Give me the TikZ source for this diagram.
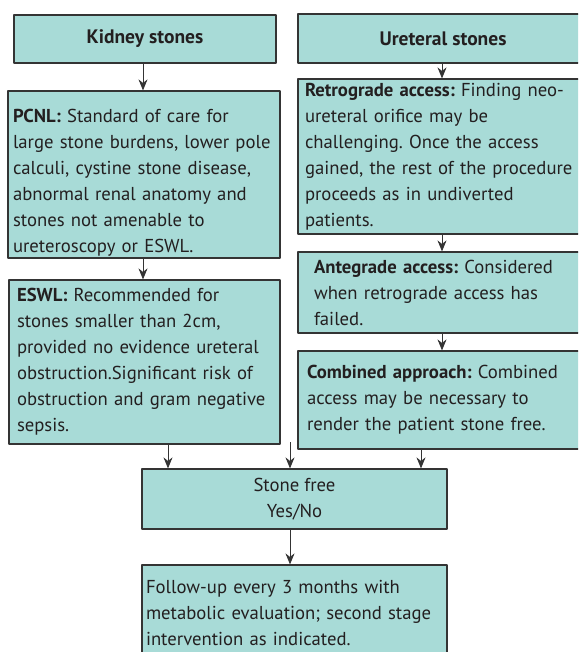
\documentclass[tikz,border=0pt]{standalone}
\usepackage{fontspec}
\setmainfont{PT Sans}
\frenchspacing
\usetikzlibrary{arrows.meta}
\definecolor{boxfill}{RGB}{168,219,215}
\definecolor{boxline}{RGB}{52,52,52}
\definecolor{txt}{RGB}{35,31,32}
\begin{document}
\begin{tikzpicture}[x=1pt, y=-1pt, line join=round, >={Stealth[length=11pt,width=9pt]},
	box/.style={draw=boxline, fill=boxfill, line width=1.2pt, text=txt, inner ysep=0pt, align=left, font=\fontsize{18.7}{26}\selectfont},
	head/.style={box, align=center, font=\fontsize{19.5}{26}\selectfont\bfseries},
	link/.style={->, line width=0.9pt, draw=boxline}]
	\clip (0,0) rectangle (578,652);
	% left column
	\node[head, minimum width=262pt, minimum height=48pt] (kid) at (145,39) {Kidney stones};
	\node[box, text width=262pt, inner xsep=5pt, minimum height=167pt] (pcnl) at (144,174.5)
	{\rule{0pt}{30pt}\textbf{PCNL:} Standard of care for\\large stone burdens, lower pole\\calculi, cystine stone disease,\\abnormal renal anatomy and\\stones not amenable to\\ureteroscopy or ESWL.};
	\node[box, text width=255pt, inner xsep=8pt, minimum height=164pt] (eswl) at (144.5,362)
	{\textbf{ESWL:} Recommended for\\stones smaller than 2cm,\\provided no evidence ureteral\\obstruction.Significant risk of\\obstruction and gram negative\\sepsis.};
	% right column
	\node[head, minimum width=290pt, minimum height=49pt] (ure) at (443,38.5) {Ureteral stones};
	\node[box, text width=276pt, inner xsep=7pt, minimum height=155pt] (retro) at (443,156.5)
	{\textbf{Retrograde access:} Finding neo-\\ureteral orifice may be\\challenging. Once the access\\gained, the rest of the procedure\\proceeds as in undiverted\\patients.};
	\node[box, text width=258pt, inner xsep=16pt, minimum height=81pt] (ante) at (443,292.5)
	{\textbf{Antegrade access:} Considered\\when retrograde access has\\failed.};
	\node[box, text width=272pt, inner xsep=9pt, minimum height=98pt] (comb) at (443,400)
	{\textbf{Combined approach:} Combined\\access may be necessary to\\render the patient stone free.};
	% bottom
	\node[box, align=center, minimum width=305pt, minimum height=60pt] (free) at (294.5,499) {Stone free\\Yes/No};
	\node[box, text width=297pt, inner xsep=4pt, minimum height=96pt] (follow) at (294.5,613)
	{Follow-up every 3 months with\\metabolic evaluation; second stage\\intervention as indicated.};
	\coordinate (mid) at (290,442);
	% arrows
	\draw[link] (kid.south -| 143,0) -- (pcnl.north -| 143,0);
	\draw[link] (pcnl.south -| 143,0) -- (eswl.north -| 143,0);
	\draw[link] (ure.south -| 442,0) -- (retro.north -| 442,0);
	\draw[link] (retro.south -| 442,0) -- (ante.north -| 442,0);
	\draw[link] (ante.south -| 442,0) -- (comb.north -| 442,0);
	\draw[link] (eswl.south -| 168,0) -- (free.north -| 168,0);
	\draw[link] (mid) -- (free.north -| mid);
	\draw[link] (comb.south -| 421,0) -- (free.north -| 421,0);
	\draw[link] (free.south -| mid) -- (follow.north -| mid);
\end{tikzpicture}
\end{document}
